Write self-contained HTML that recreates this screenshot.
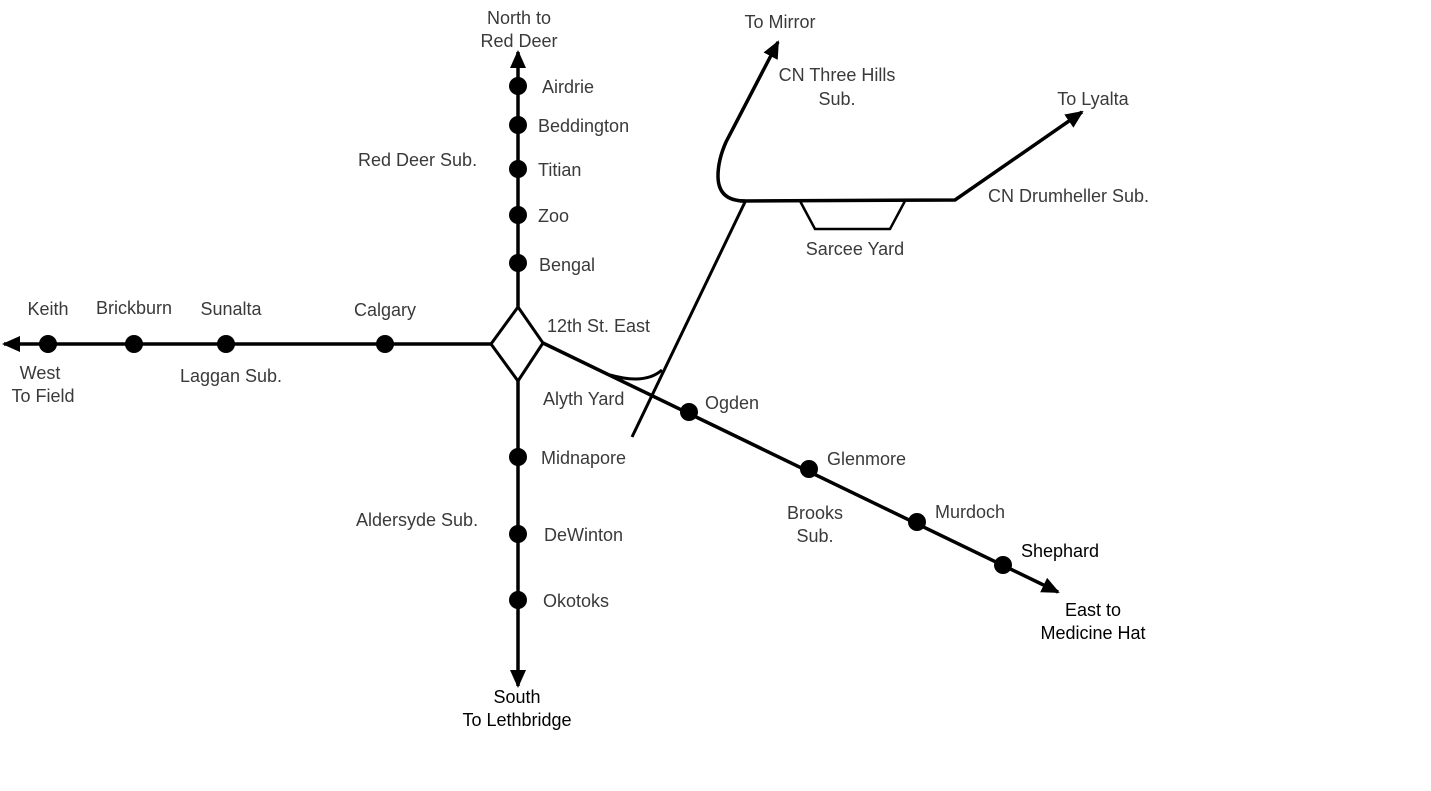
<!DOCTYPE html>
<html><head><style>
html,body{margin:0;padding:0;background:#fff}
svg{display:block}
text{font-family:"Liberation Sans",sans-serif;font-size:18px;fill:#3a3a3a}
.k{fill:#000}
</style></head><body>
<svg width="1431" height="791" viewBox="0 0 1431 791">
<defs>
<marker id="b" markerWidth="18" markerHeight="16" refX="16" refY="8" orient="auto" markerUnits="userSpaceOnUse"><path d="M0,0 L18,8 L0,16z" fill="#000"/></marker></defs>
<g stroke="#000" stroke-width="3.5" fill="none">
<line x1="518" y1="307" x2="518" y2="52" marker-end="url(#b)"/>
<line x1="518" y1="380" x2="518" y2="686" marker-end="url(#b)"/>
<line x1="491" y1="344" x2="4" y2="344" marker-end="url(#b)"/>
<line x1="543" y1="343" x2="1058" y2="592" marker-end="url(#b)"/>
<path d="M518,307 L491,344 L518,381 L543,343 Z" stroke-width="3"/>
<line x1="632" y1="437" x2="745" y2="202" stroke-width="3"/>
<path d="M610,375 Q645,385 662,370" stroke-width="3"/>
<path d="M745,201 Q718,201 718,176 Q718,160 726,142 L778,42" stroke-width="3.5" marker-end="url(#b)"/>
<path d="M740,201 L955,200 L1082,112" stroke-width="3.5" marker-end="url(#b)"/>
<path d="M800,201 L815,229 L890,229 L905,201" stroke-width="2.5"/>
</g>
<g fill="#000">
<circle cx="518" cy="86" r="9"/><circle cx="518" cy="125" r="9"/><circle cx="518" cy="169" r="9"/><circle cx="518" cy="215" r="9"/><circle cx="518" cy="263" r="9"/>
<circle cx="518" cy="457" r="9"/><circle cx="518" cy="534" r="9"/><circle cx="518" cy="600" r="9"/>
<circle cx="48" cy="344" r="9"/><circle cx="134" cy="344" r="9"/><circle cx="226" cy="344" r="9"/><circle cx="385" cy="344" r="9"/>
<circle cx="689" cy="412" r="9"/><circle cx="809" cy="469" r="9"/><circle cx="917" cy="522" r="9"/><circle cx="1003" cy="565" r="9"/>
</g>
<text x="519" y="24" text-anchor="middle">North to</text><text x="519" y="47" text-anchor="middle">Red Deer</text>
<text x="542" y="93">Airdrie</text><text x="538" y="132">Beddington</text><text x="538" y="176">Titian</text><text x="538" y="222">Zoo</text><text x="539" y="271">Bengal</text>
<text x="358" y="166">Red Deer Sub.</text>
<text x="547" y="332">12th St. East</text><text x="543" y="405">Alyth Yard</text>
<text x="541" y="464">Midnapore</text><text x="356" y="526">Aldersyde Sub.</text><text x="544" y="541">DeWinton</text><text x="543" y="607">Okotoks</text>
<text class="k" x="517" y="703" text-anchor="middle">South</text><text class="k" x="517" y="726" text-anchor="middle">To Lethbridge</text>
<text x="48" y="315" text-anchor="middle">Keith</text><text x="134" y="314" text-anchor="middle">Brickburn</text><text x="231" y="315" text-anchor="middle">Sunalta</text><text x="385" y="316" text-anchor="middle">Calgary</text>
<text x="231" y="382" text-anchor="middle">Laggan Sub.</text>
<text x="40" y="379" text-anchor="middle">West</text><text x="43" y="402" text-anchor="middle">To Field</text>
<text x="705" y="409">Ogden</text><text x="827" y="465">Glenmore</text><text x="815" y="519" text-anchor="middle">Brooks</text><text x="815" y="542" text-anchor="middle">Sub.</text>
<text x="935" y="518">Murdoch</text><text class="k" x="1021" y="557">Shephard</text>
<text class="k" x="1093" y="616" text-anchor="middle">East to</text><text class="k" x="1093" y="639" text-anchor="middle">Medicine Hat</text>
<text x="780" y="28" text-anchor="middle">To Mirror</text>
<text x="837" y="81" text-anchor="middle">CN Three Hills</text><text x="837" y="105" text-anchor="middle">Sub.</text>
<text x="1093" y="105" text-anchor="middle">To Lyalta</text>
<text x="988" y="202">CN Drumheller Sub.</text>
<text x="855" y="255" text-anchor="middle">Sarcee Yard</text>
</svg>
</body></html>
